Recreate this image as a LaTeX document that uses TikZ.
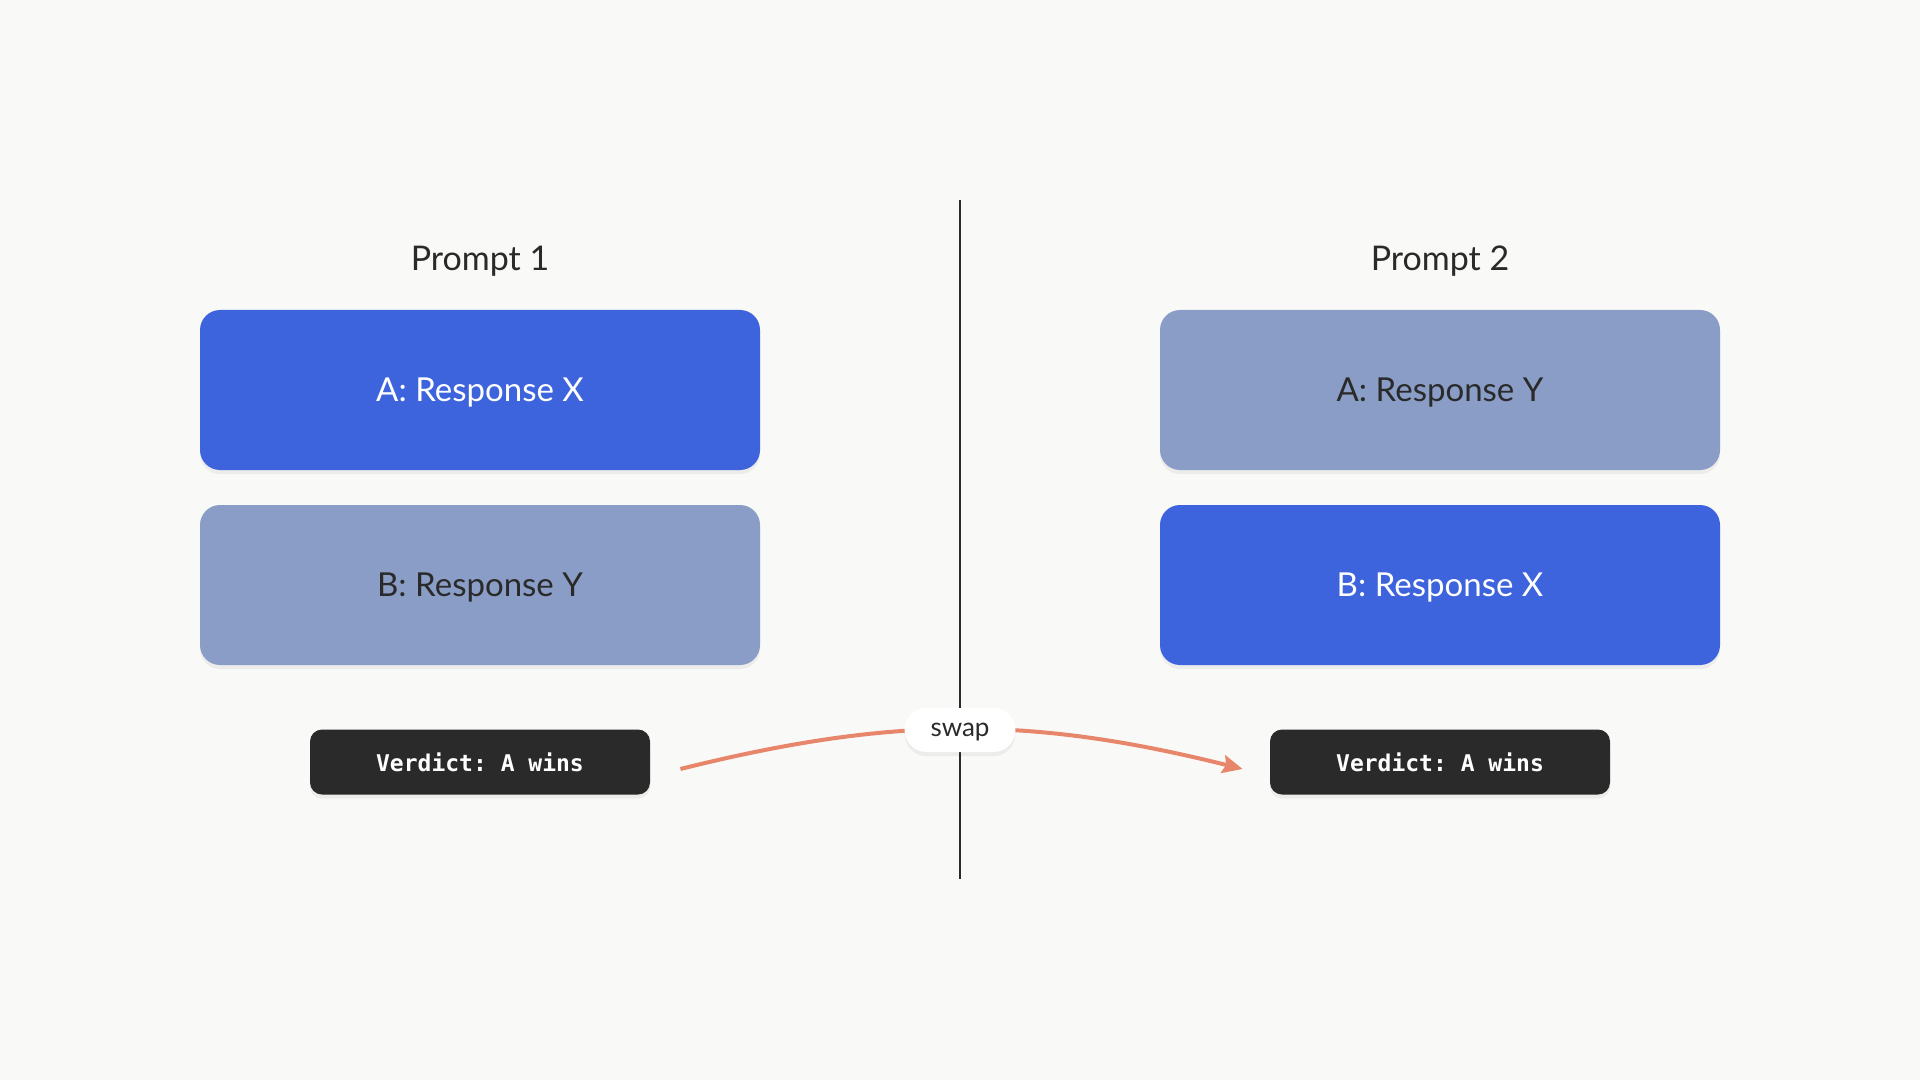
\documentclass[tikz,border=0pt]{standalone}
\usepackage{fontspec}
\setmainfont{Lato}
\setmonofont{DejaVu Sans Mono}
\usetikzlibrary{arrows.meta,shadows}
\definecolor{bgc}{RGB}{249,249,247}
\definecolor{blueA}{RGB}{61,100,221}
\definecolor{greyB}{RGB}{138,157,198}
\definecolor{darkC}{RGB}{42,42,42}
\definecolor{salmon}{RGB}{232,134,108}
\begin{document}
\begin{tikzpicture}[x=0.5pt,y=-0.5pt,
  softshadow/.style={general shadow={fill=black,opacity=0.05,shadow yshift=-2pt,shadow scale=1.0}},
  title/.style={font=\fontsize{17pt}{20pt}\selectfont,text=darkC,text height=12.2pt,text depth=0pt},
  resp/.style={rounded corners=10pt,minimum width=280pt,minimum height=80pt,
    font=\fontsize{16.5pt}{20pt}\selectfont,text height=11.9pt,text depth=0pt,softshadow},
  hot/.style={resp,fill=blueA,text=white},
  cold/.style={resp,fill=greyB,text=darkC},
  verdict/.style={rounded corners=6pt,minimum width=170pt,minimum height=32.5pt,
    fill=darkC,text=white,font=\ttfamily\bfseries\fontsize{11.5pt}{14pt}\selectfont,softshadow},
  pill/.style={rounded corners=11pt,minimum width=55.5pt,minimum height=22pt,
    fill=white,text=darkC,font=\fontsize{13pt}{15pt}\selectfont,text height=6.6pt,text depth=0pt,softshadow},
  swaparrow/.style={draw=salmon,line width=2pt,-{Stealth[length=10pt,width=9pt,inset=1.5pt]}},
  divider/.style={draw=darkC,line width=1pt}]
\fill[bgc] (0,0) rectangle (1920,1080);
\useasboundingbox (0,0) rectangle (1920,1080);
% titles
\node[title] (p1) at (480,258) {Prompt 1};
\node[title] (p2) at (1440,258) {Prompt 2};
% divider
\coordinate (dtop) at (960,200);
\coordinate (dbot) at (960,879);
\draw[divider] (dtop) -- (dbot);
% response boxes
\node[hot]  (a1) at (480,390) {A: Response X};
\node[cold] (b1) at (480,585) {B: Response Y};
\node[cold] (a2) at (1440,390) {A: Response Y};
\node[hot]  (b2) at (1440,585) {B: Response X};
% verdicts
\node[verdict] (v1) at (480,762) {Verdict: A wins};
\node[verdict] (v2) at (1440,762) {Verdict: A wins};
% swap arrow
\coordinate (as) at ([xshift=15pt,yshift=-3.5pt]v1.east);
\coordinate (ae) at ([xshift=-13.5pt,yshift=-3.5pt]v2.west);
\draw[swaparrow] (as) to[bend left=14] (ae);
\node[pill] (sw) at (960,730) {swap};
\end{tikzpicture}
\end{document}
